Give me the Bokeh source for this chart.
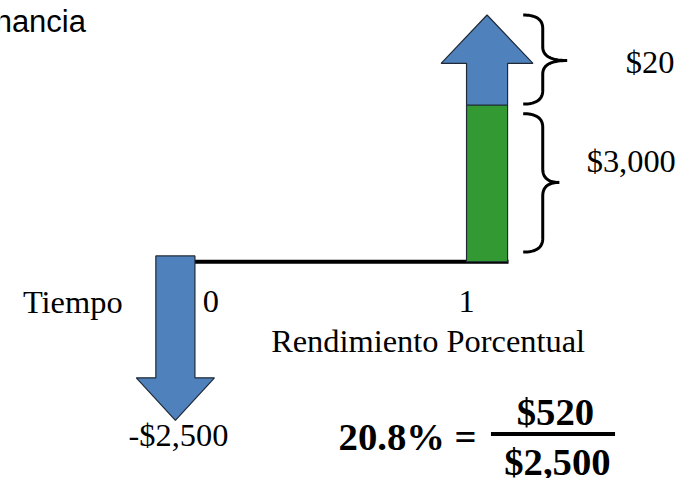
import numpy as np
from bokeh.plotting import figure
from bokeh.models import Range1d
from bokeh.core.properties import value
from bokeh.embed import file_html
from bokeh.resources import INLINE

# ---- data ----
times = [0, 1]
time_labels = ["0", "1"]
investment = [-2500]
flow_labels = ["-$2,500", "$3,000", "$20"]
return_pct = [20.8]
gain = [520]
principal = [2500]
texts = {"title": "nancia", "time": "Tiempo", "caption": "Rendimiento Porcentual"}

W, H = 680, 478
RW, RH = 696.0, 494.0
SX, SY = W / RW, H / RH
p = figure(width=W, height=H, output_backend="svg", toolbar_location=None,
           x_range=Range1d(0, W), y_range=Range1d(0, H), min_border=0)
p.axis.visible = False
p.grid.visible = False
p.outline_line_color = None
p.background_fill_color = "white"
p.border_fill_color = "white"

# map reference-layout pixels into figure coords
def X(px):
    return px * SX
def Y(py):
    return H - py * SY

BLUE = "#4F81BD"
GREEN = "#339933"
EDGE = "#1f2a36"

# time positions (layout px)
T0, T1 = 179, 498
tx = {times[0]: T0, times[1]: T1}
LINE_Y = 270

# horizontal timeline
p.line([X(T0 + 20), X(T1 + 22)], [Y(LINE_Y), Y(LINE_Y)], line_color="black", line_width=4)

# down arrow (investment at t=0)
c = tx[times[0]]
dx = [c - 20, c + 20, c + 20, c + 40, c, c - 40, c - 20]
dy = [264, 264, 390, 390, 434, 390, 390]
p.patch([X(v) for v in dx], [Y(v) for v in dy], fill_color=BLUE, line_color=EDGE, line_width=1.2)

# green bar (capital at t=1)
c = tx[times[1]]
p.quad(left=[X(c - 21)], right=[X(c + 21)], top=[Y(108)], bottom=[Y(LINE_Y)],
       fill_color=GREEN, line_color=EDGE, line_width=1.2)

# up arrow (income at t=1)
ux = [c - 21, c + 21, c + 21, c + 47, c, c - 47, c - 21]
uy = [108, 108, 65, 65, 15, 65, 65]
p.patch([X(v) for v in ux], [Y(v) for v in uy], fill_color=BLUE, line_color=EDGE, line_width=1.2)

# curly braces
def qbez(p0, p1, p2, n=20):
    t = np.linspace(0, 1, n)[:, None]
    a, b, cc = np.array(p0), np.array(p1), np.array(p2)
    return (1 - t) ** 2 * a + 2 * (1 - t) * t * b + t ** 2 * cc

def brace(x0, y1, y2, ym, h, tip):
    xv = x0 + h
    r = 14
    pts = [qbez((x0, y1), (xv, y1), (xv, y1 + r)),
           np.array([[xv, y1 + r], [xv, ym - r]]),
           qbez((xv, ym - r), (xv, ym), (tip, ym)),
           qbez((tip, ym), (xv, ym), (xv, ym + r)),
           np.array([[xv, ym + r], [xv, y2 - r]]),
           qbez((xv, y2 - r), (xv, y2), (x0, y2))]
    arr = np.vstack(pts)
    p.line([X(v) for v in arr[:, 0]], [Y(v) for v in arr[:, 1]], line_color="black", line_width=3)

brace(535, 15, 107, 62, 20, 580)
brace(535, 117, 260, 188, 20, 572)

serif = value("Liberation Serif")
sans = value("Liberation Sans")

def txt(x, baseline, s, font=serif, size=33.5, style="normal", align="left"):
    fs = size * SY
    # compensate renderer's alphabetic baseline offset
    yy = Y(baseline) + 0.41 * fs
    p.text([X(x)], [yy], text=[s], text_font=font, text_font_size=f"{fs:.1f}px",
           text_font_style=style, text_align=align, text_baseline="alphabetic", text_color="black")

txt(-6, 35, texts["title"], font=sans, size=32)
txt(23, 325, texts["time"])
txt(207, 325, time_labels[0])
txt(477, 325, time_labels[1], align="center")
txt(277, 366, texts["caption"])
txt(131, 463, flow_labels[0])
txt(600, 180, flow_labels[1])
txt(640, 77, flow_labels[2])

txt(346, 467, f"{return_pct[0]:.1f}% =", size=40, style="bold")
txt(568, 442, f"${gain[0]:,}", size=40, style="bold", align="center")
txt(570, 493, f"${principal[0]:,}", size=40, style="bold", align="center")
p.line([X(502), X(629)], [Y(448), Y(448)], line_color="black", line_width=4)

open("out.html", "w").write(file_html(p, INLINE))
